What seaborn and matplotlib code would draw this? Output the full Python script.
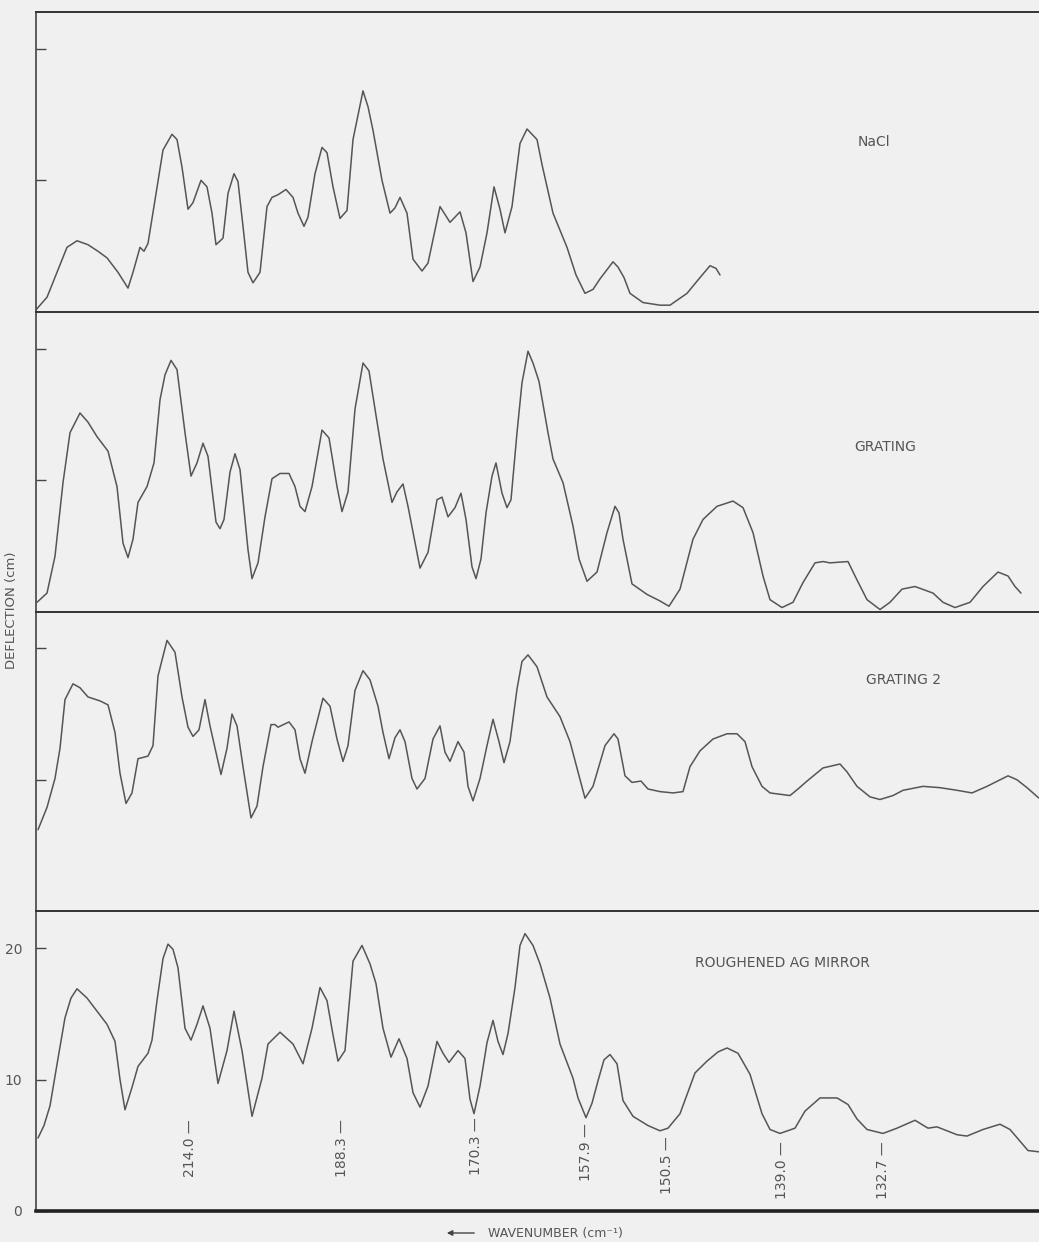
import matplotlib
matplotlib.use("Agg")
import matplotlib.pyplot as plt
import seaborn as sns
import pandas as pd

# Trace positions (chart position along the wavenumber axis) and deflection (cm)
nacl = [(36, 0.15), (47, 1.1), (57, 3.0), (67, 4.9), (77, 5.4), (88, 5.1), (98, 4.6), (107, 4.1),
        (118, 3.0), (128, 1.8), (133, 3.0), (140, 4.9), (144, 4.6), (148, 5.2), (155, 8.5),
        (163, 12.3), (172, 13.5), (177, 13.1), (182, 11.0), (188, 7.8), (193, 8.3), (201, 10.0),
        (207, 9.5), (212, 7.5), (216, 5.1), (223, 5.6), (228, 9.0), (234, 10.5), (238, 9.9),
        (243, 6.5), (248, 3.0), (253, 2.2), (260, 3.0), (267, 8.0), (272, 8.7), (278, 8.9),
        (286, 9.3), (293, 8.7), (298, 7.5), (304, 6.5), (308, 7.2), (315, 10.5), (322, 12.5),
        (327, 12.1), (333, 9.5), (340, 7.1), (347, 7.7), (353, 13.1), (363, 16.8), (368, 15.6),
        (373, 13.8), (382, 10.0), (390, 7.5), (395, 7.9), (400, 8.7), (407, 7.5), (413, 4.0),
        (422, 3.1), (428, 3.7), (440, 8.0), (450, 6.8), (460, 7.6), (466, 6.0), (473, 2.3),
        (480, 3.4), (487, 6.0), (494, 9.5), (500, 7.8), (505, 6.0), (512, 8.0), (520, 12.8),
        (527, 13.9), (537, 13.1), (542, 11.2), (553, 7.5), (567, 4.9), (576, 2.8), (585, 1.4),
        (593, 1.7), (600, 2.5), (607, 3.2), (613, 3.8), (618, 3.4), (624, 2.6), (630, 1.4),
        (643, 0.7), (660, 0.5), (670, 0.5), (687, 1.4), (700, 2.6), (710, 3.5), (716, 3.3),
        (720, 2.8)]

grating = [(37, 0.7), (47, 1.4), (55, 4.2), (63, 9.8), (70, 13.6), (80, 15.1), (88, 14.4),
           (97, 13.3), (108, 12.2), (117, 9.5), (123, 5.2), (128, 4.1), (133, 5.5), (138, 8.3),
           (147, 9.5), (154, 11.3), (160, 16.1), (165, 18.0), (171, 19.1), (177, 18.4),
           (185, 13.6), (191, 10.3), (197, 11.3), (203, 12.8), (208, 11.8), (216, 6.8),
           (220, 6.3), (224, 7.0), (230, 10.6), (235, 12.0), (240, 10.8), (248, 4.7), (252, 2.5),
           (258, 3.7), (265, 7.2), (272, 10.1), (280, 10.5), (289, 10.5), (295, 9.5), (300, 8.0),
           (305, 7.6), (312, 9.5), (322, 13.8), (329, 13.2), (337, 9.5), (342, 7.6), (348, 9.1),
           (355, 15.4), (363, 18.9), (369, 18.3), (375, 15.4), (383, 11.6), (392, 8.3),
           (397, 9.1), (403, 9.7), (408, 8.0), (420, 3.3), (428, 4.5), (437, 8.5), (442, 8.7),
           (448, 7.2), (455, 7.9), (461, 9.0), (466, 7.0), (472, 3.4), (476, 2.5), (481, 4.0),
           (486, 7.5), (492, 10.3), (496, 11.3), (502, 9.0), (507, 7.9), (511, 8.5), (517, 13.6),
           (522, 17.4), (528, 19.8), (533, 18.9), (539, 17.5), (548, 13.6), (553, 11.6),
           (563, 9.8), (573, 6.5), (579, 4.0), (587, 2.3), (597, 3.0), (607, 6.0), (615, 8.0),
           (619, 7.5), (623, 5.5), (632, 2.1), (647, 1.3), (660, 0.8), (669, 0.4), (680, 1.7),
           (693, 5.5), (703, 7.0), (717, 8.0), (725, 8.2), (733, 8.4), (743, 7.9), (753, 6.0),
           (763, 2.7), (770, 0.9), (782, 0.3), (793, 0.7), (803, 2.2), (815, 3.7), (823, 3.8),
           (830, 3.7), (848, 3.8), (857, 2.4), (867, 0.9), (880, 0.15), (890, 0.7), (902, 1.7),
           (915, 1.9), (933, 1.4), (943, 0.7), (955, 0.3), (970, 0.7), (983, 1.9), (998, 3.0),
           (1008, 2.7), (1015, 1.9), (1021, 1.4)]

grating2 = [(38, 6.2), (47, 7.9), (55, 10.1), (60, 12.4), (65, 16.1), (73, 17.3), (80, 17.0),
            (88, 16.3), (100, 16.0), (108, 15.7), (115, 13.6), (120, 10.5), (126, 8.2),
            (132, 9.0), (138, 11.6), (148, 11.8), (153, 12.6), (158, 17.9), (167, 20.6),
            (175, 19.7), (182, 16.3), (188, 14.0), (193, 13.3), (199, 13.8), (205, 16.1),
            (210, 14.1), (221, 10.4), (227, 12.4), (232, 15.0), (237, 14.1), (243, 11.0),
            (251, 7.1), (257, 8.0), (263, 11.0), (271, 14.2), (275, 14.2), (278, 14.0),
            (289, 14.4), (295, 13.8), (300, 11.6), (305, 10.5), (312, 12.9), (323, 16.2),
            (330, 15.6), (337, 13.1), (343, 11.4), (348, 12.6), (355, 16.8), (363, 18.3),
            (370, 17.6), (378, 15.6), (383, 13.6), (389, 11.6), (395, 13.2), (400, 13.8),
            (405, 12.9), (412, 10.1), (417, 9.3), (425, 10.1), (433, 13.1), (440, 14.1),
            (445, 12.1), (450, 11.4), (458, 12.9), (464, 12.1), (468, 9.5), (473, 8.4),
            (480, 10.1), (487, 12.6), (493, 14.6), (499, 12.9), (504, 11.3), (510, 12.9),
            (517, 16.9), (522, 19.0), (528, 19.5), (537, 18.6), (547, 16.3), (560, 14.8),
            (570, 12.9), (578, 10.6), (585, 8.6), (593, 9.5), (605, 12.6), (614, 13.5),
            (618, 13.1), (625, 10.3), (632, 9.8), (641, 9.9), (648, 9.3), (660, 9.1), (673, 9.0),
            (683, 9.1), (690, 11.0), (700, 12.2), (713, 13.1), (727, 13.5), (737, 13.5),
            (745, 12.9), (752, 11.0), (762, 9.5), (770, 9.0), (790, 8.8), (798, 9.3), (807, 9.9),
            (823, 10.9), (840, 11.2), (847, 10.6), (857, 9.5), (870, 8.7), (880, 8.5), (893, 8.8),
            (903, 9.2), (923, 9.5), (940, 9.4), (957, 9.2), (972, 9.0), (987, 9.5), (1008, 10.3),
            (1017, 10.0), (1027, 9.4), (1039, 8.6)]

ag_mirror = [(38, 5.55), (44, 6.5), (50, 8.0), (58, 11.6), (65, 14.7), (71, 16.2), (77, 16.9),
             (87, 16.2), (97, 15.2), (107, 14.2), (115, 12.9), (120, 10.0), (125, 7.7), (132, 9.4),
             (138, 11.0), (148, 12.0), (152, 13.0), (157, 16.0), (163, 19.2), (168, 20.3),
             (173, 19.9), (178, 18.5), (185, 13.9), (191, 13.0), (197, 14.2), (203, 15.6),
             (210, 13.9), (218, 9.7), (227, 12.2), (234, 15.2), (242, 12.2), (252, 7.2),
             (262, 10.1), (268, 12.7), (280, 13.6), (293, 12.7), (303, 11.2), (312, 13.9),
             (320, 17.0), (327, 16.0), (333, 13.4), (338, 11.4), (345, 12.2), (353, 19.0),
             (362, 20.2), (370, 18.8), (376, 17.3), (383, 13.9), (391, 11.7), (399, 13.1),
             (407, 11.6), (413, 9.0), (420, 7.9), (428, 9.5), (437, 12.9), (443, 12.0),
             (449, 11.3), (458, 12.2), (465, 11.6), (470, 8.5), (474, 7.4), (480, 9.5),
             (487, 12.8), (493, 14.5), (498, 12.9), (503, 11.9), (508, 13.5), (515, 17.0),
             (520, 20.2), (525, 21.1), (533, 20.2), (540, 18.8), (550, 16.2), (560, 12.7),
             (573, 10.1), (578, 8.6), (586, 7.1), (592, 8.2), (598, 9.9), (604, 11.5), (610, 11.9),
             (617, 11.2), (623, 8.4), (633, 7.2), (648, 6.5), (660, 6.1), (668, 6.3), (680, 7.4),
             (695, 10.5), (707, 11.4), (718, 12.1), (727, 12.4), (738, 12.0), (750, 10.4),
             (762, 7.4), (770, 6.2), (780, 5.9), (795, 6.3), (805, 7.6), (820, 8.6), (837, 8.6),
             (848, 8.1), (857, 7.0), (867, 6.2), (883, 5.9), (897, 6.3), (915, 6.9), (928, 6.3),
             (937, 6.4), (957, 5.8), (967, 5.7), (983, 6.2), (1000, 6.6), (1010, 6.2),
             (1028, 4.6), (1039, 4.5)]

panel_names = ["NaCl", "GRATING", "GRATING 2", "ROUGHENED AG MIRROR"]
panel_label_pos = [(874, 12.9), (885, 12.5), (904, 17.6), (782, 18.9)]

# wavenumber markers (cm-1) under the bottom trace
marker_labels = ["214.0", "188.3", "170.3", "157.9", "150.5", "139.0", "132.7"]
marker_pos = [190, 342, 476, 586, 667, 782, 883]
marker_top = [7.0, 7.0, 7.1, 6.7, 5.7, 5.3, 5.3]

y_ticks = [0, 10, 20]

paper = "#f0f0f0"
ink = "#555555"

sns.set_style("ticks")
plt.rcParams["font.family"] = ["DejaVu Sans"]

fig, axes = plt.subplots(4, 1, figsize=(10.39, 12.42), dpi=100, sharex=True,
                         gridspec_kw={"hspace": 0})
fig.patch.set_facecolor(paper)
fig.subplots_adjust(left=36 / 1039, right=1.0, top=1 - 12 / 1242, bottom=1 - 1211 / 1242)

for i, (ax, pts, name) in enumerate(zip(axes, [nacl, grating, grating2, ag_mirror], panel_names)):
    df = pd.DataFrame(pts, columns=["pos", "deflection"])
    sns.lineplot(data=df, x="pos", y="deflection", ax=ax, color=ink, linewidth=1.1,
                 estimator=None, sort=False, solid_joinstyle="round", solid_capstyle="round")
    ax.set_facecolor(paper)
    ax.set_xlim(36, 1039)
    ax.set_ylim(0, 22.8)
    ax.set_xlabel("")
    ax.set_ylabel("")
    ax.set_xticks([])
    ax.spines["right"].set_visible(False)
    ax.spines["top"].set_color("#333333")
    ax.spines["top"].set_linewidth(1.4)
    ax.spines["left"].set_color("#444444")
    ax.spines["left"].set_linewidth(1.2)
    if i < 3:
        ax.spines["bottom"].set_visible(False)
        ax.set_yticks(y_ticks[1:])
        ax.tick_params(axis="y", direction="in", length=7, width=1.0, color="#444444",
                       labelleft=False)
    else:
        ax.spines["bottom"].set_color("#222222")
        ax.spines["bottom"].set_linewidth(2.6)
        ax.set_yticks(y_ticks)
        ax.tick_params(axis="y", direction="in", length=7, width=1.0, color="#444444",
                       labelsize=10, labelcolor="#555555", pad=10)
    lx, ly = panel_label_pos[i]
    ax.text(lx, ly, name, ha="center", va="center", fontsize=10, color="#555555")

bottom = axes[-1]
for lab, xp, yt in zip(marker_labels, marker_pos, marker_top):
    bottom.text(xp, yt, lab + " \u2014", rotation=90, ha="center", va="top",
                fontsize=10, color="#555555")

fig.text(12 / 1039, 1 - 610 / 1242, "DEFLECTION (cm)", rotation=90, ha="center",
         va="center", fontsize=9.5, color="#555555")
fig.text(488 / 1039, 1 - 1233 / 1242, "WAVENUMBER (cm\u207b\u00b9)", ha="left", va="center",
         fontsize=9, color="#555555")
fig.patches.append(matplotlib.patches.FancyArrowPatch(
    (477 / 1039, 1 - 1233 / 1242), (444 / 1039, 1 - 1233 / 1242),
    transform=fig.transFigure, arrowstyle="-|>", mutation_scale=8,
    color="#444444", linewidth=1.0))

fig.savefig("out.png", dpi=100, facecolor=paper)
